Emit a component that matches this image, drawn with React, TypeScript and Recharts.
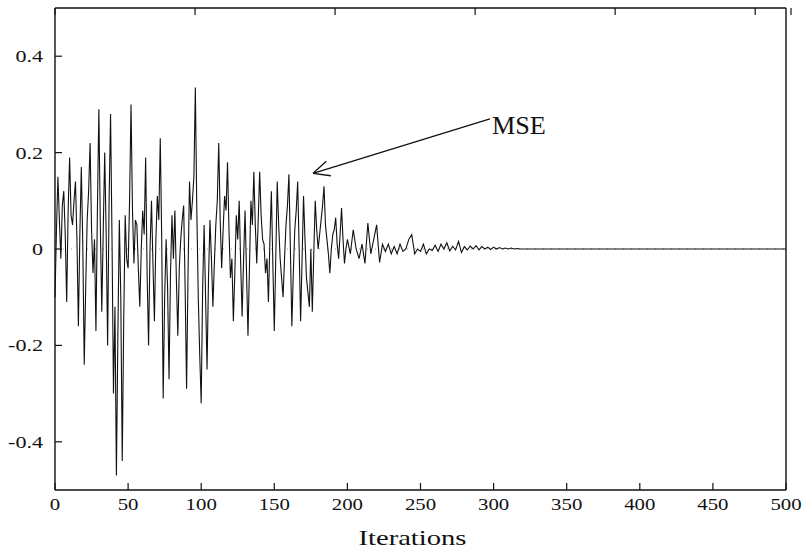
import { Line, LineChart, XAxis, YAxis, ReferenceLine, ReferenceDot } from 'recharts';

// iterations 0..200 every step, then every 2 up to 320, flat to 500
const iterations = [
  ...Array.from({ length: 201 }, (_, i) => i),
  202, 204, 206, 208, 210, 212, 214, 216, 218, 220, 222, 224, 226, 228, 230, 232, 234, 236, 238, 240,
  242, 244, 246, 248, 250, 252, 254, 256, 258, 260, 262, 264, 266, 268, 270, 272, 274, 276, 278, 280,
  282, 284, 286, 288, 290, 292, 294, 296, 298, 300, 302, 304, 306, 308, 310, 312, 314, 316, 318, 320,
  500,
];

const mse = [
  // 0-49
  -0.10, 0.04, 0.15, 0.06, -0.02, 0.09, 0.12, 0.03, -0.11, 0.08,
  0.19, 0.07, 0.05, 0.10, 0.14, 0.02, -0.16, 0.03, 0.17, 0.01,
  -0.24, -0.08, 0.06, 0.12, 0.22, 0.04, -0.05, 0.02, -0.17, 0.08,
  0.29, 0.05, -0.13, 0.04, 0.20, 0.03, -0.20, 0.10, 0.28, 0.02,
  -0.30, -0.12, -0.47, -0.18, 0.06, -0.10, -0.44, -0.15, 0.07, -0.02,
  // 50-99
  -0.04, 0.10, 0.30, 0.08, -0.03, 0.06, 0.05, -0.04, -0.12, 0.00,
  0.08, 0.03, 0.19, -0.05, -0.20, 0.00, 0.10, -0.03, -0.15, 0.02,
  0.11, 0.06, 0.23, 0.02, -0.31, -0.10, 0.02, -0.08, -0.27, -0.05,
  0.07, -0.02, 0.08, -0.06, -0.18, -0.04, 0.02, 0.06, 0.09, -0.08,
  -0.29, -0.05, 0.14, 0.06, 0.10, 0.15, 0.335, 0.08, -0.10, -0.22,
  // 100-149
  -0.32, -0.08, 0.05, -0.10, -0.25, -0.06, 0.06, -0.02, -0.12, -0.03,
  0.05, 0.10, 0.22, 0.06, -0.04, 0.04, 0.11, 0.08, 0.18, 0.04,
  -0.06, -0.02, -0.15, -0.05, 0.07, 0.02, 0.10, -0.03, -0.14, -0.02,
  0.08, -0.05, -0.18, -0.04, 0.10, 0.05, 0.16, 0.05, -0.03, 0.06,
  0.16, 0.07, 0.02, 0.01, -0.05, -0.02, -0.11, 0.02, 0.12, -0.03,
  // 150-200
  -0.17, -0.02, 0.14, 0.05, -0.02, -0.06, -0.10, -0.02, 0.05, 0.09,
  0.155, 0.00, -0.16, -0.05, 0.04, 0.08, 0.14, 0.00, -0.15, -0.02,
  0.11, 0.02, -0.06, -0.09, -0.12, 0.00, -0.13, -0.01, 0.10, 0.04,
  0.00, 0.03, 0.06, 0.09, 0.13, 0.05, 0.02, -0.01, -0.05, 0.00,
  0.03, 0.04, 0.065, 0.01, -0.02, 0.03, 0.085, 0.02, -0.03, 0.00,
  0.02,
  // 202-320 (step 2)
  -0.01, 0.04, 0.0, -0.02, 0.01, -0.03, 0.054, -0.01, 0.02, 0.05,
  -0.028, 0.01, -0.005, 0.01, -0.01, 0.005, -0.01, 0.01, -0.005, 0.0,
  0.02, 0.03, -0.01, 0.0, -0.005, 0.01, -0.01, 0.0, -0.003, 0.008,
  -0.005, 0.01, 0.0, 0.013, -0.004, 0.006, -0.002, 0.016, -0.007, 0.005,
  -0.002, 0.006, 0.0, 0.007, -0.002, 0.005, 0.0, 0.004, -0.001, 0.004,
  0.0, 0.003, 0.0, 0.002, 0.0, 0.002, 0.0, 0.001, 0.0, 0.0,
  0.0,
];

const xTicks = [0, 50, 100, 150, 200, 250, 300, 350, 400, 450, 500];
const yTicks = [-0.4, -0.2, 0, 0.2, 0.4];

// annotation: arrow from label to curve (data space)
const arrowTail = { x: 297.5, y: 0.27 };
const arrowTip = { x: 176.5, y: 0.157 };
const barbA = { x: 188.7, y: 0.152 };
const barbB = { x: 185.6, y: 0.182 };

const data = iterations.map((it, i) => ({ it, mse: mse[i] }));

const FONT = '"Liberation Serif", "Times New Roman", serif';
const INK = '#111';
const TICK = 7;
// with tickSize 6 + tickMargin 2 the tick anchor sits 8px off the axis line
const GAP = 8;

const BottomTick = ({ x, y, payload }: any) => (
  <g transform={`translate(${x},${y})`}>
    <line x1={0} y1={-GAP} x2={0} y2={-GAP - TICK} stroke={INK} strokeWidth={1.2} />
    <text transform="scale(1.3,1)" textAnchor="middle" dy="0.72em" fontSize={16} fontFamily={FONT} fill={INK}>
      {payload.value}
    </text>
  </g>
);

const TopTick = ({ x, y }: any) => (
  <line x1={x} y1={y + GAP} x2={x} y2={y + GAP + TICK} stroke={INK} strokeWidth={1.2} />
);

const LeftTick = ({ x, y, payload }: any) => (
  <g transform={`translate(${x},${y})`}>
    <line x1={GAP} y1={0} x2={GAP + TICK} y2={0} stroke={INK} strokeWidth={1.2} />
    <text transform="translate(-4,0) scale(1.3,1)" textAnchor="end" dy="0.35em" fontSize={17} fontFamily={FONT} fill={INK}>
      {payload.value === 0 ? '0' : payload.value.toFixed(1)}
    </text>
  </g>
);

const RightTick = ({ x, y }: any) => (
  <line x1={x - GAP} y1={y} x2={x - GAP - TICK} y2={y} stroke={INK} strokeWidth={1.2} />
);

const XTitle = ({ viewBox }: any) => (
  <g transform={`translate(${viewBox.x + viewBox.width / 2 - 8},${viewBox.y + 40})`}>
    <text transform="scale(1.3,1)" textAnchor="middle" dy="0.7em" fontSize={22} fontFamily={FONT} fill={INK}>
      Iterations
    </text>
  </g>
);

const MseLabel = ({ cx, cy }: any) => (
  <g transform={`translate(${cx + 2},${cy + 6})`}>
    <text transform="scale(1.05,1)" dy="0.35em" fontSize={25} fontFamily={FONT} fill={INK}>MSE</text>
  </g>
);

export default function App() {
  return (
    <div style={{ position: 'absolute', left: 0, top: 0, width: 803, height: 556, background: '#fff' }}>
      <LineChart width={803} height={556} data={data} margin={{ top: 7, right: 16, bottom: 14, left: 5 }}>
        <XAxis dataKey="it" type="number" domain={[0, 500]} ticks={xTicks} height={52}
          stroke={INK} strokeWidth={1.4} tickSize={6} tickMargin={2} tickLine={false} tick={<BottomTick />}
          label={<XTitle />} />
        <XAxis xAxisId="top" orientation="top" type="number" domain={[0, 500]} ticks={xTicks} height={1}
          stroke={INK} strokeWidth={1.4} tickSize={6} tickMargin={2} tickLine={false} tick={<TopTick />} />
        <YAxis type="number" domain={[-0.5, 0.5]} ticks={yTicks} width={50}
          stroke={INK} strokeWidth={1.4} tickSize={6} tickMargin={2} tickLine={false} tick={<LeftTick />} />
        <YAxis yAxisId="right" orientation="right" type="number" domain={[-0.5, 0.5]} ticks={yTicks} width={1}
          stroke={INK} strokeWidth={1.4} tickSize={6} tickMargin={2} tickLine={false} tick={<RightTick />} />
        <ReferenceLine y={0} stroke="#999" strokeDasharray="1 7" />
        <Line type="linear" dataKey="mse" stroke={INK} strokeWidth={1.1} dot={false} isAnimationActive={false} />
        <ReferenceLine segment={[arrowTail, arrowTip]} stroke={INK} strokeWidth={1.3} />
        <ReferenceLine segment={[arrowTip, barbA]} stroke={INK} strokeWidth={1.3} />
        <ReferenceLine segment={[arrowTip, barbB]} stroke={INK} strokeWidth={1.3} />
        <ReferenceDot x={arrowTail.x} y={arrowTail.y} shape={<MseLabel />} />
      </LineChart>
    </div>
  );
}
